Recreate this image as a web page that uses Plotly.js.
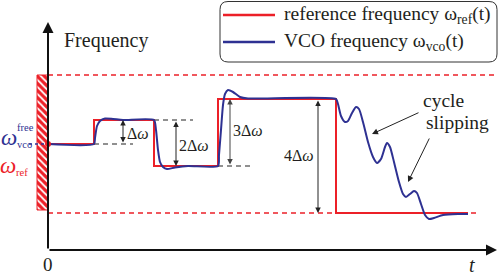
<!DOCTYPE html>
<html><head><meta charset="utf-8">
<script src="https://cdn.plot.ly/plotly-3.0.1.min.js"></script>
<style>html,body{margin:0;padding:0;background:#fff}#c{width:498px;height:277px}</style>
</head><body><div id="c"></div>
<script>
// Reference frequency (step sequence): time and frequency (schematic units)
const refT = [0, 46, 46, 106, 106, 170, 170, 288, 288, 420];
const refF = [106, 106, 130, 130, 84, 84, 151, 151, 37, 37];
// VCO frequency response
const vcoT = [0, 46, 47, 49, 52, 57, 65, 75, 106, 108, 110, 112, 115, 119, 127, 140, 170, 171, 173, 175, 177, 180, 185, 192, 200, 288,
  290, 293, 297, 300, 304, 308, 311, 315, 320, 325, 329, 333, 337, 339, 342, 346, 351, 355, 358, 362, 366, 369, 373, 377, 381, 386, 395, 410, 420];
const vcoF = [106, 106, 112, 124, 129, 131.5, 131, 130, 130, 120, 100, 88, 83, 81, 82.5, 84, 84, 95, 120, 145, 156, 160, 158, 153, 151.5, 151,
  146, 134, 128, 129, 137, 143, 141, 128, 108, 93, 87, 91, 103, 107, 103, 88, 68, 56, 53, 56, 59, 57, 46, 35, 31, 32, 35, 36, 36];
// Free-running VCO frequency and the lock-range limits
const freeF = 106;
const upperF = 175;
const lowerF = 37;
const stepLabels = ["Δ<i>ω</i>", "2Δ<i>ω</i>", "3Δ<i>ω</i>", "4Δ<i>ω</i>"];

const RED = "#ec2028", BLUE = "#2e3192", SERIF = "Liberation Serif, Times New Roman, serif";

const traces = [
  {type: "bar", x: [-5.5], y: [upperF - 40], base: [40], width: [11],
   marker: {color: RED, line: {color: RED, width: 1},
            pattern: {shape: "\\", fgcolor: "#ffffff", bgcolor: RED, size: 5, solidity: 0.35}},
   hoverinfo: "skip"},
  {x: [0, 447], y: [upperF, upperF], mode: "lines", line: {color: RED, width: 1.3, dash: "5px,4px"}},
  {x: [0, 432], y: [lowerF, lowerF], mode: "lines", line: {color: RED, width: 1.3, dash: "5px,4px"}},
  {x: [46, 85], y: [refF[0], refF[0]], mode: "lines", line: {color: "#222", width: 1.2, dash: "5px,4px"}},
  {x: [106, 145], y: [refF[2], refF[2]], mode: "lines", line: {color: "#222", width: 1.2, dash: "5px,4px"}},
  {x: [170, 205], y: [refF[4], refF[4]], mode: "lines", line: {color: "#222", width: 1.2, dash: "5px,4px"}},
  {x: refT, y: refF, mode: "lines", name: "reference frequency", line: {color: RED, width: 2}},
  {x: vcoT, y: vcoF, mode: "lines", name: "VCO frequency", line: {color: BLUE, width: 2, shape: "spline", smoothing: 0.6}},
  {x: [-19, 0], y: [freeF, freeF], mode: "lines", line: {color: BLUE, width: 1.3, dash: "dot"}},
  {x: [0], y: [freeF], mode: "markers", marker: {color: RED, size: 6}}
];

function arrow(x, y, ax, ay, opts) {
  return Object.assign({x: x, y: y, ax: ax, ay: ay, xref: "x", yref: "y", axref: "x", ayref: "y",
    text: "", showarrow: true, arrowhead: 2, arrowsize: 1.2, arrowwidth: 1, arrowcolor: "#222", standoff: 0}, opts || {});
}
function dbl(x, y0, y1, col) {
  return arrow(x, y1, x, y0, {arrowside: "end+start", startarrowhead: 2, arrowsize: 1.1, startarrowsize: 1.1, arrowcolor: col || "#222"});
}
function txt(x, y, text, size, color, opts) {
  return Object.assign({x: x, y: y, xref: "x", yref: "y", text: text, showarrow: false,
    font: {family: SERIF, size: size, color: color || "#231f20"}}, opts || {});
}

const annotations = [
  arrow(0, 228, 0, 0, {arrowwidth: 2, arrowsize: 1.1, arrowcolor: "#111"}),
  arrow(449, 0, 0, 0, {arrowwidth: 2, arrowsize: 1.1, arrowcolor: "#111"}),
  dbl(75, refF[0], refF[2]),
  dbl(128, refF[2], refF[4]),
  dbl(182, refF[4], refF[6], "#444"),
  dbl(270, refF[6], refF[8]),
  arrow(324, 116, 372, 138),
  arrow(360, 68, 382, 113),
  txt(90, 117, stepLabels[0], 16),
  txt(146, 105, stepLabels[1], 16),
  txt(200, 120, stepLabels[2], 16),
  txt(251, 95, stepLabels[3], 16),
  txt(14, 210, "Frequency", 20, null, {xanchor: "left"}),
  txt(0, -14, "0", 19),
  txt(424, -15, "<i>t</i>", 20),
  txt(395, 150, "cycle", 19.5),
  txt(409, 128, "slipping", 19.5),
  txt(-39, 113, "<i>ω</i>", 23, BLUE),
  txt(-23, 123, "free", 10.5, BLUE),
  txt(-24, 106, "vco", 10.5, BLUE),
  txt(-40, 85, "<i>ω</i>", 23, RED),
  txt(-26, 78, "ref", 10.5, RED),
  txt(234, 235, "reference frequency ω<sub>ref</sub>(t)", 19.5, null, {xanchor: "left"}),
  txt(234, 208, "VCO frequency ω<sub>vco</sub>(t)", 19.5, null, {xanchor: "left"})
];

const shapes = [
  {type: "path", xref: "x", yref: "y", path: "M 180,248.5 L 441,248.5 Q 449,248.5 449,240.5 L 449,196 Q 449,188 441,188 L 180,188 Q 172,188 172,196 L 172,240.5 Q 172,248.5 180,248.5 Z",
   line: {color: "#333", width: 1}},
  {type: "line", xref: "x", yref: "y", x0: 175, x1: 227, y0: 235, y1: 235, line: {color: RED, width: 2.5}},
  {type: "line", xref: "x", yref: "y", x0: 175, x1: 227, y0: 208, y1: 208, line: {color: BLUE, width: 2.5}}
];

const layout = {
  width: 498, height: 277, margin: {l: 0, r: 0, t: 0, b: 0},
  paper_bgcolor: "#fff", plot_bgcolor: "#fff", showlegend: false,
  xaxis: {range: [-48, 450], visible: false, fixedrange: true},
  yaxis: {range: [-27, 250], visible: false, fixedrange: true},
  annotations: annotations, shapes: shapes, hovermode: false
};
Plotly.newPlot("c", traces, layout, {staticPlot: true});
</script></body></html>
